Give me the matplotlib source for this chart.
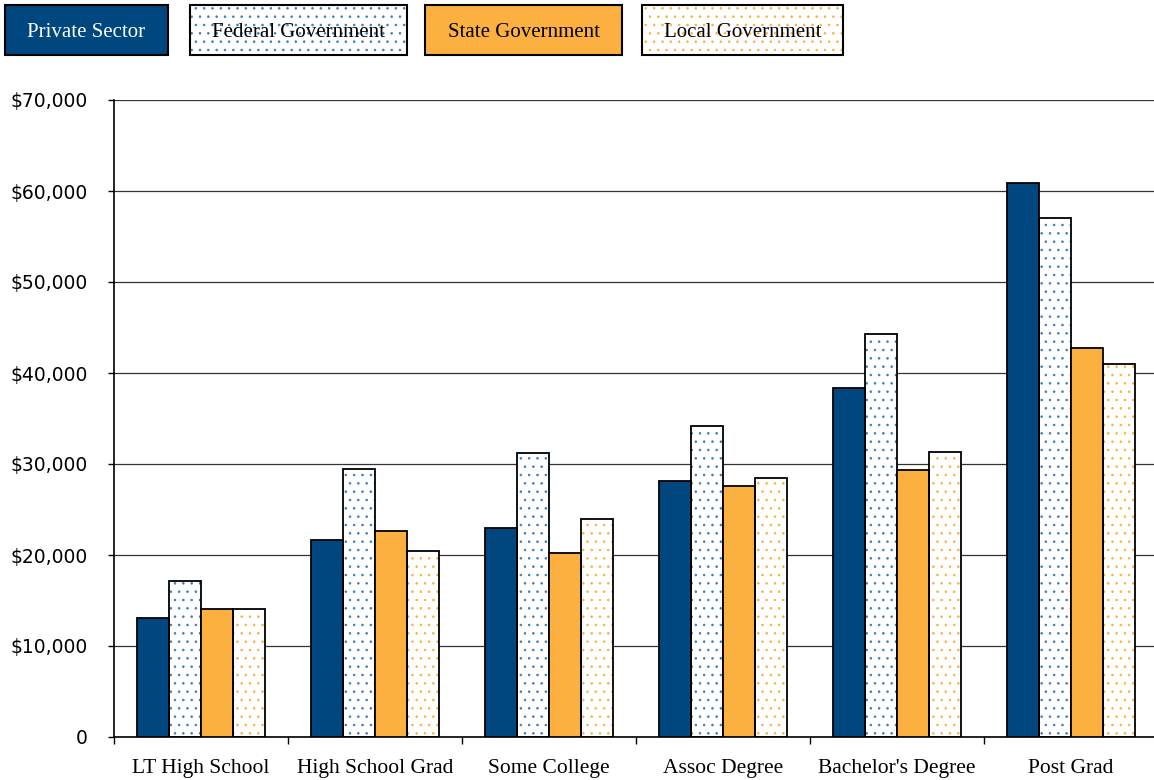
import numpy as np
import matplotlib.pyplot as plt
from matplotlib.patches import Rectangle
from matplotlib.ticker import FuncFormatter, FixedLocator

# median earnings by education level and sector of employment
categories = ['LT High School', 'High School Grad', 'Some College',
              'Assoc Degree', "Bachelor's Degree", 'Post Grad']
series_names = ['Private Sector', 'Federal Government',
                'State Government', 'Local Government']
private = [13100, 21600, 23000, 28100, 38300, 60900]
federal = [17100, 29500, 31200, 34200, 44300, 57000]
state = [14100, 22600, 20200, 27600, 29300, 42800]
local = [14100, 20400, 24000, 28500, 31300, 41000]

NAVY = '#00467F'
ORANGE = '#FBB040'
DOT_BLUE = '#3D7CB6'

# (face colour, dot colour, text colour) for each series
styles = [
    (NAVY, None, 'white'),
    ('white', DOT_BLUE, 'black'),
    (ORANGE, None, 'black'),
    ('white', ORANGE, 'black'),
]

plt.rcParams['hatch.linewidth'] = 0.6

W, H = 1154, 780
fig = plt.figure(figsize=(W / 100, H / 100), dpi=100)
ax = fig.add_axes([114 / W, 43 / H, 1044 / W, 637 / H])

x = np.arange(len(categories))
width = 0.185
series = [private, federal, state, local]

for i, (vals, (face, dots, _)) in enumerate(zip(series, styles)):
    pos = x + (i - 1.5) * width
    if dots:
        ax.bar(pos, vals, width, color='white', edgecolor=dots,
               hatch='..', linewidth=0, zorder=2)
        ax.bar(pos, vals, width, fill=False, edgecolor='black',
               linewidth=1.3, zorder=3)
    else:
        ax.bar(pos, vals, width, color=face, edgecolor='black',
               linewidth=1.3, zorder=3)

ax.set_xlim(-0.5, len(categories) - 0.5)
ax.set_ylim(0, 70000)
ax.set_yticks(np.arange(0, 70001, 10000))
ax.yaxis.set_major_formatter(
    FuncFormatter(lambda v, p: '0' if v == 0 else '${:,.0f}'.format(v)))
ax.grid(axis='y', color='#333333', linewidth=0.9, zorder=0)
ax.set_axisbelow(True)

# category labels centred, ticks drawn between groups
ax.set_xticks(x)
ax.set_xticklabels(categories, family='Liberation Serif', fontsize=15.5)
ax.tick_params(axis='x', length=0, pad=16)
ax.xaxis.set_minor_locator(FixedLocator(np.arange(-0.5, len(categories), 1)))
ax.tick_params(axis='x', which='minor', length=5, width=1, color='black')
ax.tick_params(axis='y', length=4, width=1, pad=15, labelsize=13.5,
               color='black')
for lab in ax.get_yticklabels():
    lab.set_family('DejaVu Sans')

for side in ['top', 'right']:
    ax.spines[side].set_visible(False)
ax.spines['left'].set_linewidth(1.2)
ax.spines['bottom'].set_linewidth(1.2)

# legend as a row of separate boxes above the plot
boxes = [(5, 163), (190, 217), (425, 197), (642, 201)]
top, bh = 5, 50
for (bx, bw), name, (face, dots, tcol) in zip(boxes, series_names, styles):
    rect_xy = (bx / W, (H - top - bh) / H)
    if dots:
        fig.patches.append(Rectangle(rect_xy, bw / W, bh / H,
                                     transform=fig.transFigure,
                                     facecolor='white', edgecolor=dots,
                                     hatch='..', linewidth=0))
        fig.patches.append(Rectangle(rect_xy, bw / W, bh / H,
                                     transform=fig.transFigure, fill=False,
                                     edgecolor='black', linewidth=1.5))
    else:
        fig.patches.append(Rectangle(rect_xy, bw / W, bh / H,
                                     transform=fig.transFigure,
                                     facecolor=face, edgecolor='black',
                                     linewidth=1.5))
    fig.text((bx + bw / 2) / W, (H - top - bh / 2) / H, name,
             ha='center', va='center_baseline', color=tcol,
             family='Liberation Serif', fontsize=15)

fig.savefig('out.png', dpi=100)
